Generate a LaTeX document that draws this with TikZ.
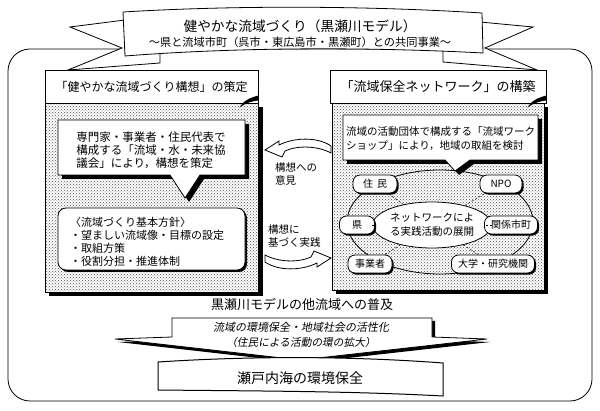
\documentclass[tikz,border=0pt]{standalone}
\usepackage{fontspec}
\setmainfont{Noto Sans CJK JP}
\newfontfamily\jpit{Noto Sans CJK JP}[FakeSlant=0.18]
\usetikzlibrary{patterns,shapes.geometric,shadows}
\tikzset{
  ln/.style={draw=black, line width=0.8pt},
  wbox/.style={ln, fill=white},
  panelfill/.style={pattern=crosshatch dots, pattern color=black!70},
  pill/.style={wbox, rounded corners=7pt, minimum height=18pt, inner sep=1pt,
    font=\fontsize{10}{12}\selectfont,
    drop shadow={shadow xshift=1.6pt, shadow yshift=-1.6pt, fill=black, opacity=1}},
  txt/.style={inner sep=0pt, align=left}
}
\newcommand\myarrowpath{(265,150) -- (279,141) -- (279,145) .. controls (295,137) and (318,137) .. (331,146)
      -- (331,153) .. controls (318,146) and (298,145) .. (285,151) -- (282,157) -- cycle}
\begin{document}
\begin{tikzpicture}[x=1pt,y=-1pt]
\useasboundingbox (0,0) rectangle (600,411);
% outer frame
\draw[ln, rounded corners=22pt] (8,49) rectangle (592,401);
% banner tails
\draw[wbox] (125,20) -- (70,27) -- (122,48) -- (68,70) -- (160,63) -- (160,50) -- (125,50) -- cycle;
\draw[wbox] (480,22) -- (533,27) -- (485,48) -- (537,70) -- (443,62) -- (443,50) -- (480,50) -- cycle;
% banner
\draw[wbox] (123,12) .. controls (240,5) and (370,6) .. (482,13) -- (483,53)
  .. controls (370,47) and (240,47) .. (125,56) -- cycle;
\node[txt, font=\fontsize{13.7}{16}\selectfont] (title) at (300,26) {健やかな流域づくり（黒瀬川モデル）};
\node[txt, font=\fontsize{11.2}{13}\selectfont] (subtitle) at (300,42) {～県と流域市町（呉市・東広島市・黒瀬町）との共同事業～};

% ---------- left panel
\fill (49,107) rectangle (263,296);
\fill[white] (45,103) rectangle (258,292);
\fill[panelfill] (45,103) rectangle (258,292);
\draw[ln] (45,103) rectangle (258,292);
\draw[wbox] (45,70) rectangle (258,103);
\node[txt, font=\fontsize{12}{14}\selectfont] (lt) at (151.5,87) {「健やかな流域づくり構想」の策定};
\draw[ln, fill=black] (241,106) .. controls (246,99) and (252,98) .. (258,96) -- (258,100)
  .. controls (252,101) and (247,102) .. (241,106) -- cycle;
% speech box left
\fill[shift={(4,4)}] (58,120) -- (245,120) -- (245,175) -- (200,175) -- (185,198) -- (170,175) -- (58,175) -- cycle;
\draw[wbox] (58,120) -- (245,120) -- (245,175) -- (200,175) -- (185,198) -- (170,175) -- (58,175) -- cycle;
\node[txt, font=\fontsize{11.5}{12.8}\selectfont] (lsp) at (151,150.5)
  {専門家・事業者・住民代表で\\構成する「流域・水・未来協\\議会」により，構想を策定};
% policy box
\fill[rounded corners=8pt] (60,210) rectangle (247,272);
\draw[wbox, rounded corners=8pt] (58,208) rectangle (245,270);
\node[txt, anchor=west, font=\fontsize{11}{13}\selectfont] (lpol) at (70,242)
  {〈流域づくり基本方針〉\\・望ましい流域像・目標の設定\\・取組方策\\・役割分担・推進体制};

% ---------- right panel
\fill (336,107) rectangle (548,294);
\fill[white] (332,103) rectangle (544,290);
\fill[panelfill] (332,103) rectangle (544,290);
\draw[ln] (332,103) rectangle (544,290);
\draw[wbox] (330,70) rectangle (546,103);
\node[txt, font=\fontsize{13}{15}\selectfont] (rt) at (438,87) {「流域保全ネットワーク」の構築};
\draw[ln, fill=black] (529,106) .. controls (534,99) and (540,98) .. (546,96) -- (546,100)
  .. controls (540,101) and (535,102) .. (529,106) -- cycle;
% big ellipse
\draw[ln] (440,222) ellipse [x radius=93, y radius=52];
% speech box right
\fill[shift={(4,4)}] (343,115) -- (538,115) -- (538,160) -- (470,160) -- (455,171) -- (445,160) -- (343,160) -- cycle;
\draw[wbox] (343,115) -- (538,115) -- (538,160) -- (470,160) -- (455,171) -- (445,160) -- (343,160) -- cycle;
\node[txt, font=\fontsize{10.5}{14}\selectfont] (rsp) at (440.5,139)
  {流域の活動団体で構成する「流域ワーク\\ショップ」により，地域の取組を検討};
% network
\node[wbox, ellipse, minimum width=94pt, minimum height=46pt, inner sep=0pt, align=center,
  font=\fontsize{10.5}{14}\selectfont] (core) at (432,225) {ネットワークによ\\る実践活動の展開};
\node[pill, minimum width=44pt] (p1) at (375,184) {住\hspace{4pt}民};
\node[pill, minimum width=42pt] (p2) at (501,184) {NPO};
\node[pill, minimum width=35pt] (p3) at (357,225) {県};
\node[pill, minimum width=53pt] (p4) at (511,225) {関係市町};
\node[pill, minimum width=44pt] (p5) at (370,264) {事業者};
\node[pill, minimum width=83pt] (p6) at (493,264) {大学・研究機関};
\foreach \p in {p1,p2,p3,p4,p5,p6} \draw[dashed, line width=0.5pt, dash pattern=on 2pt off 2pt] (core) -- (\p);

% ---------- middle arrows
\draw[wbox] \myarrowpath;
\begin{scope}[rotate around={180:(298,204)}]
\draw[wbox] \myarrowpath;
\end{scope}
\node[txt, anchor=west, font=\fontsize{10.5}{12.5}\selectfont] (m1) at (275,174) {構想への\\意見};
\node[txt, anchor=west, font=\fontsize{10.5}{13.5}\selectfont] (m2) at (268,236) {構想に\\基づく実践};

% ---------- bottom
\node[txt, font=\fontsize{13}{15}\selectfont] (spread) at (302,305) {黒瀬川モデルの他流域への普及};
\fill[shift={(3,3)}] (172,318) -- (432,318) -- (432,337) -- (487,339) -- (300,360) -- (115,339) -- (172,337) -- cycle;
\draw[wbox] (172,318) -- (432,318) -- (432,337) -- (487,339) -- (300,360) -- (115,339) -- (172,337) -- cycle;
\node[txt, font=\jpit\fontsize{11}{13}\selectfont] (ar1) at (301,327) {流域の環境保全・地域社会の活性化};
\node[txt, font=\jpit\fontsize{10.7}{13}\selectfont] (ar2) at (301,342) {（住民による活動の環の拡大）};
\draw[wbox, line width=1pt] (158,362) .. controls (250,356) and (350,356) .. (443,363) -- (443,396)
  .. controls (350,391) and (250,391) .. (158,390) -- cycle;
\node[txt, font=\fontsize{14}{16}\selectfont] (sea) at (300,378) {瀬戸内海の環境保全};
\end{tikzpicture}
\end{document}
